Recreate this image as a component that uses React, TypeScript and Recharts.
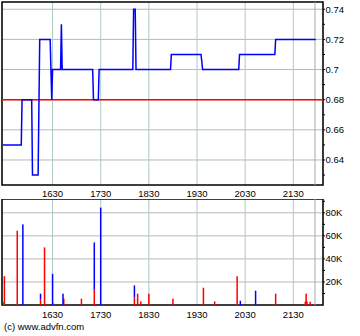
import React from "react"
import {
  LineChart,
  Line,
  BarChart,
  Bar,
  XAxis,
  YAxis,
  CartesianGrid,
  ReferenceLine,
  ReferenceArea,
} from "recharts"

// trade price steps (time of trade, price)
const priceTimes = [
  "15:28", "15:51", "15:52", "16:04", "16:05", "16:12", "16:14", "16:27", "16:29", "16:30",
  "16:40", "16:41", "16:42", "17:20", "17:21", "17:27", "17:28", "18:10", "18:11", "18:13",
  "18:14", "18:57", "18:58", "19:35", "19:37", "20:22", "20:23", "21:07", "21:08", "21:58",
]
const prices = [
  0.65, 0.65, 0.68, 0.68, 0.63, 0.63, 0.72, 0.72, 0.68, 0.7,
  0.7, 0.73, 0.7, 0.7, 0.68, 0.68, 0.7, 0.7, 0.74, 0.74,
  0.7, 0.7, 0.71, 0.71, 0.7, 0.7, 0.71, 0.71, 0.72, 0.72,
]
const prevClose = 0.68
const lastTime = "21:57"

// volume per trade
const volTimes = [
  "15:29", "15:30", "15:46", "15:53", "16:15", "16:20", "16:30", "16:31", "16:43", "16:44",
  "17:06", "17:22", "17:30", "18:12", "18:16", "18:20", "18:30", "19:00", "19:38", "19:52",
  "20:20", "20:24", "20:43", "21:08", "21:45", "21:46", "21:47", "21:51",
]
const sellVol = [
  0, 25000, 64500, 0, 4600, 50000, 0, 1200, 0, 5500,
  5500, 13300, 0, 6400, 9800, 3100, 9800, 5500, 15000, 3100,
  25000, 0, 0, 9800, 3000, 9800, 3000, 2800,
]
const buyVol = [
  0, 0, 0, 70000, 5200, 0, 27000, 0, 9800, 0,
  0, 41000, 84500, 10600, 0, 0, 0, 0, 0, 0,
  0, 3700, 12400, 0, 0, 0, 0, 0,
]
const otherVol = [
  2500, 0, 0, 0, 0, 0, 0, 0, 0, 0,
  0, 0, 0, 0, 0, 0, 0, 0, 0, 0,
  0, 0, 0, 0, 0, 0, 0, 0,
]

const timeTicks = ["16:30", "17:30", "18:30", "19:30", "20:30", "21:30"]
const timeRange = ["15:27", "22:07"]
const priceTicks = [0.63, 0.64, 0.65, 0.66, 0.67, 0.68, 0.69, 0.7, 0.71, 0.72, 0.73, 0.74]
const priceGrid = [0.64, 0.66, 0.68, 0.7, 0.72, 0.74]
const priceRange = [0.6234, 0.7448]
const volTicks = [10000, 20000, 30000, 40000, 50000, 60000, 70000, 80000, 90000]
const volGrid = [20000, 40000, 60000, 80000]
const volRange = [0, 92000]

const FONT = "'Liberation Sans', Arial, sans-serif"

const toMin = (s: string) => {
  const [h, m] = s.split(":").map(Number)
  return h * 60 + m
}
const fmtTime = (m: number) => `${Math.floor(m / 60)}${String(m % 60).padStart(2, "0")}`

const xDomain = timeRange.map(toMin)
const xTicks = timeTicks.map(toMin)

const priceData = priceTimes.map((t, i) => ({ t: toMin(t), p: prices[i] }))
const volData = volTimes.map((t, i) => ({
  t: toMin(t),
  sell: sellVol[i],
  buy: buyVol[i],
  other: otherVol[i],
}))

const PriceTick = (props: any) => {
  const { x, y, payload } = props
  const v = payload.value as number
  if (Math.round(v * 100) % 2 !== 0) return <g />
  return (
    <text x={x} y={y} dy="0.35em" textAnchor="start" fontSize={9.5} fontFamily={FONT} fill="#000">
      {String(Number(v.toFixed(2)))}
    </text>
  )
}

const VolTick = (props: any) => {
  const { x, y, payload } = props
  const v = payload.value as number
  if (v % 20000 !== 0) return <g />
  return (
    <text x={x} y={y} dy="0.35em" textAnchor="start" fontSize={9.5} fontFamily={FONT} fill="#000">
      {`${v / 1000}K`}
    </text>
  )
}

const ThinBar = (props: any) => {
  const { x, y, width, height, fill } = props
  if (!height || height <= 0) return <g />
  return <rect x={x + width / 2 - 0.75} y={y} width={1.5} height={height} fill={fill} />
}

const tickStyle = { fontSize: 9.5, fontFamily: FONT, fill: "#000" }

export default function App() {
  return (
    <div style={{ position: "absolute", left: 0, top: 0, width: 360, height: 336, background: "#fff" }}>
      <div style={{ position: "absolute", left: 0, top: 0 }}>
        <LineChart width={360} height={200} data={priceData} margin={{ top: 2, right: 0, bottom: 0, left: 2 }}>
          <CartesianGrid yAxisId="r" vertical={false} horizontalValues={priceGrid} stroke="#b8b8b8" />
          <CartesianGrid yAxisId="r" horizontal={false} stroke="#adc9c6" />
          <XAxis
            dataKey="t"
            type="number"
            domain={xDomain}
            ticks={xTicks}
            tickFormatter={fmtTime}
            allowDataOverflow
            axisLine={false}
            tickLine={false}
            tickSize={0}
            tickMargin={5}
            height={15}
            tick={tickStyle}
            interval={0}
          />
          <YAxis
            yAxisId="r"
            orientation="right"
            width={37}
            domain={priceRange}
            ticks={priceTicks}
            allowDataOverflow
            axisLine={false}
            tickLine={{ stroke: "#000" }}
            tickSize={2}
            tickMargin={0.5}
            tick={<PriceTick />}
            interval={0}
          />
          <YAxis
            yAxisId="l"
            orientation="left"
            width={0}
            mirror
            domain={priceRange}
            ticks={priceTicks}
            allowDataOverflow
            axisLine={false}
            tickLine={{ stroke: "#000" }}
            tickSize={2}
            tick={false}
            interval={0}
          />
          <ReferenceLine yAxisId="r" x={toMin(lastTime)} stroke="#a8a8a8" />
          <ReferenceLine yAxisId="r" y={prevClose} stroke="#ff0000" strokeWidth={1.5} />
          <Line
            yAxisId="r"
            dataKey="p"
            type="linear"
            stroke="#0000ff"
            strokeWidth={1.5}
            dot={false}
            isAnimationActive={false}
          />
          <ReferenceArea
            yAxisId="r"
            x1={xDomain[0]}
            x2={xDomain[1]}
            y1={priceRange[0]}
            y2={priceRange[1]}
            fill="none"
            stroke="#000"
            strokeWidth={1.5}
            fillOpacity={0}
          />
        </LineChart>
      </div>
      <div style={{ position: "absolute", left: 0, top: 199 }}>
        <BarChart width={360} height={137} data={volData} margin={{ top: 0, right: 0, bottom: 0, left: 2 }}>
          <CartesianGrid yAxisId="r" vertical={false} horizontalValues={volGrid} stroke="#b8b8b8" />
          <CartesianGrid yAxisId="r" horizontal={false} stroke="#adc9c6" />
          <XAxis
            dataKey="t"
            type="number"
            domain={xDomain}
            ticks={xTicks}
            tickFormatter={fmtTime}
            allowDataOverflow
            axisLine={false}
            tickLine={false}
            tickSize={0}
            tickMargin={6.5}
            height={31}
            tick={tickStyle}
            interval={0}
          />
          <YAxis
            yAxisId="r"
            orientation="right"
            width={37}
            domain={volRange}
            ticks={volTicks}
            allowDataOverflow
            axisLine={false}
            tickLine={{ stroke: "#000" }}
            tickSize={2}
            tickMargin={0.5}
            tick={<VolTick />}
            interval={0}
          />
          <YAxis
            yAxisId="l"
            orientation="left"
            width={0}
            mirror
            domain={volRange}
            ticks={volTicks}
            allowDataOverflow
            axisLine={false}
            tickLine={{ stroke: "#000" }}
            tickSize={2}
            tick={false}
            interval={0}
          />
          <ReferenceLine yAxisId="r" x={toMin(lastTime)} stroke="#a8a8a8" />
          <Bar yAxisId="r" dataKey="sell" stackId="v" fill="#ff0000" shape={<ThinBar />} isAnimationActive={false} />
          <Bar yAxisId="r" dataKey="buy" stackId="v" fill="#0000ff" shape={<ThinBar />} isAnimationActive={false} />
          <Bar yAxisId="r" dataKey="other" stackId="v" fill="#00a000" shape={<ThinBar />} isAnimationActive={false} />
          <ReferenceArea
            yAxisId="r"
            x1={xDomain[0]}
            x2={xDomain[1]}
            y1={volRange[0]}
            y2={volRange[1]}
            fill="none"
            stroke="#000"
            strokeWidth={1.5}
            fillOpacity={0}
          />
        </BarChart>
      </div>
      <div
        style={{
          position: "absolute",
          left: 4,
          top: 322,
          fontSize: 9.5,
          lineHeight: "10px",
          fontFamily: FONT,
          color: "#000",
          whiteSpace: "nowrap",
        }}
      >
        (c) www.advfn.com
      </div>
    </div>
  )
}
